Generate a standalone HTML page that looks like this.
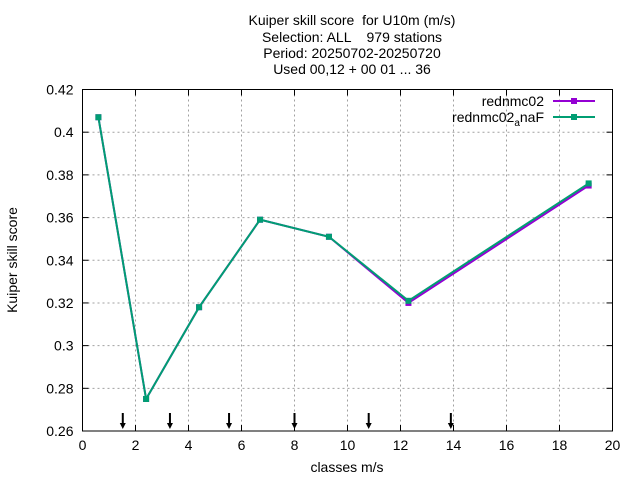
<!DOCTYPE html>
<html><head><meta charset="utf-8"><style>
body{margin:0;background:#fff}
svg text{font-family:"Liberation Sans",sans-serif;fill:#000;white-space:pre}
</style></head><body>
<svg id="c" width="640" height="480" xmlns="http://www.w3.org/2000/svg">
<rect width="640" height="480" fill="#fff"/>
<g font-size="14" text-anchor="middle">
<text x="352" y="25" xml:space="preserve">Kuiper skill score  for U10m (m/s)</text>
<text x="352" y="42" xml:space="preserve">Selection: ALL    979 stations</text>
<text x="352" y="58">Period: 20250702-20250720</text>
<text x="352" y="74">Used 00,12 + 00 01 ... 36</text>
</g>
<g id="grid"></g><g id="axes"></g><g id="series"></g>
<text x="347" y="472" font-size="14" text-anchor="middle">classes m/s</text>
<text transform="translate(17,260) rotate(-90)" font-size="14" text-anchor="middle">Kuiper skill score</text>
<g font-size="14" text-anchor="end">
<text x="544" y="106">rednmc02</text>
<line x1="553" y1="101" x2="595" y2="101" stroke="#9400d3" stroke-width="2"/>
<rect x="571" y="98" width="6" height="6" fill="#9400d3"/>
<text x="544" y="122">rednmc02<tspan font-size="10" dy="4">a</tspan><tspan dy="-4">naF</tspan></text>
<line x1="553" y1="117" x2="595" y2="117" stroke="#009e73" stroke-width="2"/>
<rect x="571" y="114" width="6" height="6" fill="#009e73"/>
</g>
</svg>
<script>
const xTicks=[0,2,4,6,8,10,12,14,16,18,20];
const yTicks=[0.26,0.28,0.3,0.32,0.34,0.36,0.38,0.4,0.42];
const yTickLabels=["0.26","0.28","0.3","0.32","0.34","0.36","0.38","0.4","0.42"];
const classX=[0.6,2.4,4.4,6.7,9.3,12.3,19.1];
const s1=[0.407,0.275,0.318,0.359,0.351,0.320,0.375];
const s2=[0.407,0.275,0.318,0.359,0.351,0.321,0.376];
const arrowX=[1.52,3.3,5.53,8.0,10.8,13.9];
const L=82.5,R=612.5,T=89.5,B=431;
const X=v=>L+(v-0)/20*(R-L);
const Y=v=>B-(v-0.26)/0.16*(B-T);
const NS="http://www.w3.org/2000/svg";
function mk(p,t,a){const e=document.createElementNS(NS,t);for(const k in a)e.setAttribute(k,a[k]);p.appendChild(e);return e;}
const g=document.getElementById('grid'),ax=document.getElementById('axes'),se=document.getElementById('series');
xTicks.forEach(v=>{
 if(v>0&&v<20){const l=mk(g,'line',{x1:X(v),x2:X(v),y1:T,y2:B,stroke:'#a0a0a0','stroke-dasharray':'2,3'});
 
 }
 mk(ax,'line',{x1:X(v),x2:X(v),y1:B,y2:B-6,stroke:'#000'});
 mk(ax,'line',{x1:X(v),x2:X(v),y1:T,y2:T+6,stroke:'#000'});
 const t=mk(ax,'text',{x:X(v),y:B+19,'font-size':14,'text-anchor':'middle'});t.textContent=v;
 
 
});
yTicks.forEach((v,i)=>{
 if(i>0&&i<yTicks.length-1){const l=mk(g,'line',{x1:L,x2:R,y1:Y(v),y2:Y(v),stroke:'#a0a0a0','stroke-dasharray':'2,3'});
 
 }
 mk(ax,'line',{x1:L,x2:L+6,y1:Y(v),y2:Y(v),stroke:'#000'});
 mk(ax,'line',{x1:R,x2:R-6,y1:Y(v),y2:Y(v),stroke:'#000'});
 const t=mk(ax,'text',{x:L-9,y:Y(v)+5,'font-size':14,'text-anchor':'end'});t.textContent=yTickLabels[i];
 
 
});
const fr=mk(ax,'rect',{x:L,y:T,width:R-L,height:B-T,fill:'none',stroke:'#000'});


arrowX.forEach(v=>{
 const a=mk(ax,'g',{});
 
 
 mk(a,'line',{x1:X(v),x2:X(v),y1:B-18,y2:B-5,stroke:'#000','stroke-width':2});
 mk(a,'path',{d:`M${X(v)-3},${B-8}L${X(v)+3},${B-8}L${X(v)},${B-2}Z`,fill:'#000'});
});
[[s1,'#9400d3','series-rednmc02'],[s2,'#009e73','series-rednmc02-anaF']].forEach(([s,c,n])=>{
 const gg=mk(se,'g',{});
 
 
 mk(gg,'polyline',{points:s.map((v,i)=>X(classX[i])+','+Y(v)).join(' '),fill:'none',stroke:c,'stroke-width':2});
 s.forEach((v,i)=>{const p=mk(gg,'rect',{x:X(classX[i])-3,y:Y(v)-3,width:6,height:6,fill:c});
 
 });
});
</script>
</body></html>
